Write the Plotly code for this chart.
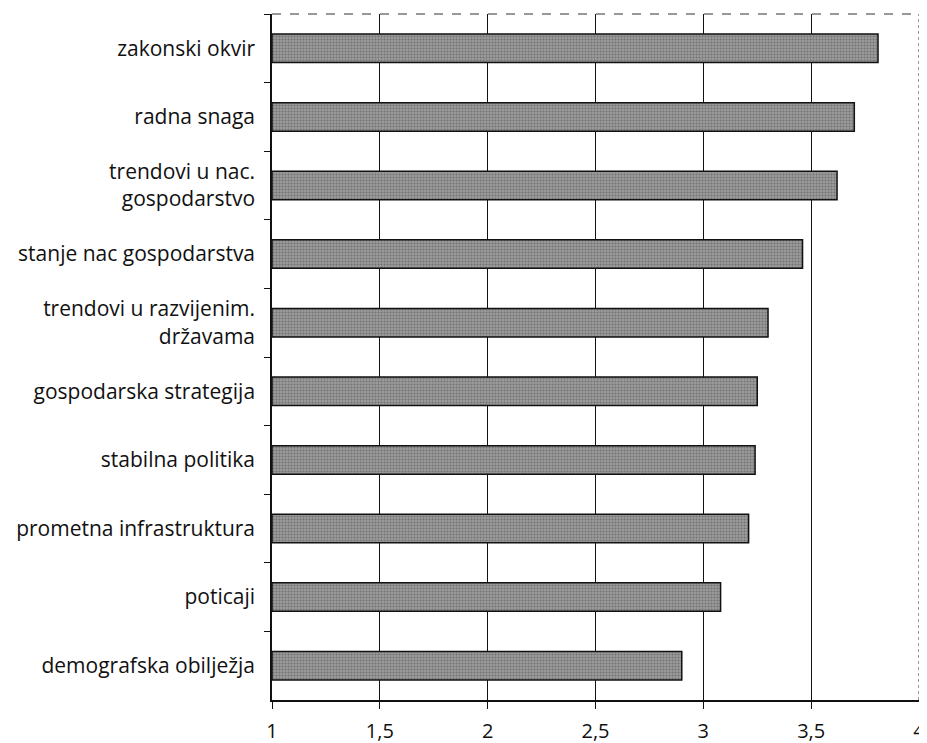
import plotly.graph_objects as go

categories = [
    "zakonski okvir",
    "radna snaga",
    "trendovi u nac.<br>gospodarstvo",
    "stanje nac gospodarstva",
    "trendovi u razvijenim.<br>državama",
    "gospodarska strategija",
    "stabilna politika",
    "prometna infrastruktura",
    "poticaji",
    "demografska obilježja",
]
values = [3.81, 3.70, 3.62, 3.46, 3.30, 3.25, 3.24, 3.21, 3.08, 2.90]
x_tickvals = [1, 1.5, 2, 2.5, 3, 3.5, 4]
x_ticktext = ["1", "1,5", "2", "2,5", "3", "3,5", "4"]
base_value = 1

fig = go.Figure(
    go.Bar(
        x=[v - base_value for v in values],
        y=categories,
        base=base_value,
        orientation="h",
        marker=dict(
            color="#8a8a8a",
            line=dict(color="#111111", width=1.5),
            pattern=dict(shape=".", fgcolor="#4a4a4a", bgcolor="#9c9c9c", size=3, solidity=0.4),
        ),
        hoverinfo="skip",
    )
)

font_family = "Open Sans, Noto Sans, sans-serif"

fig.update_layout(
    width=924,
    height=735,
    margin=dict(l=264, r=13, t=6, b=43),
    paper_bgcolor="white",
    plot_bgcolor="white",
    bargap=0.585,
    showlegend=False,
    font=dict(family=font_family, size=21, color="#111111"),
    xaxis=dict(
        range=[1, 4],
        tickvals=x_tickvals,
        ticktext=x_ticktext,
        automargin=False,
        showgrid=True,
        gridcolor="#111111",
        gridwidth=1.2,
        zeroline=False,
        showline=True,
        linecolor="#111111",
        linewidth=1.5,
        ticks="outside",
        ticklen=7,
        tickcolor="#111111",
        tickfont=dict(size=20),
        ticklabelstandoff=5,
    ),
    yaxis=dict(
        autorange="reversed",
        automargin=False,
        showgrid=False,
        showline=True,
        linecolor="#111111",
        linewidth=1.5,
        ticks="outside",
        tickson="boundaries",
        ticklen=6,
        tickcolor="#111111",
        tickfont=dict(size=21),
        ticklabelstandoff=11,
    ),
    shapes=[
        dict(type="line", xref="paper", yref="paper", x0=0, x1=1, y0=1, y1=1,
             line=dict(color="#333333", width=1.2, dash="dash")),
        dict(type="line", xref="paper", yref="paper", x0=1, x1=1, y0=0, y1=1,
             line=dict(color="#555555", width=1.2, dash="dot")),
    ],
)

fig.write_html("out.html")
